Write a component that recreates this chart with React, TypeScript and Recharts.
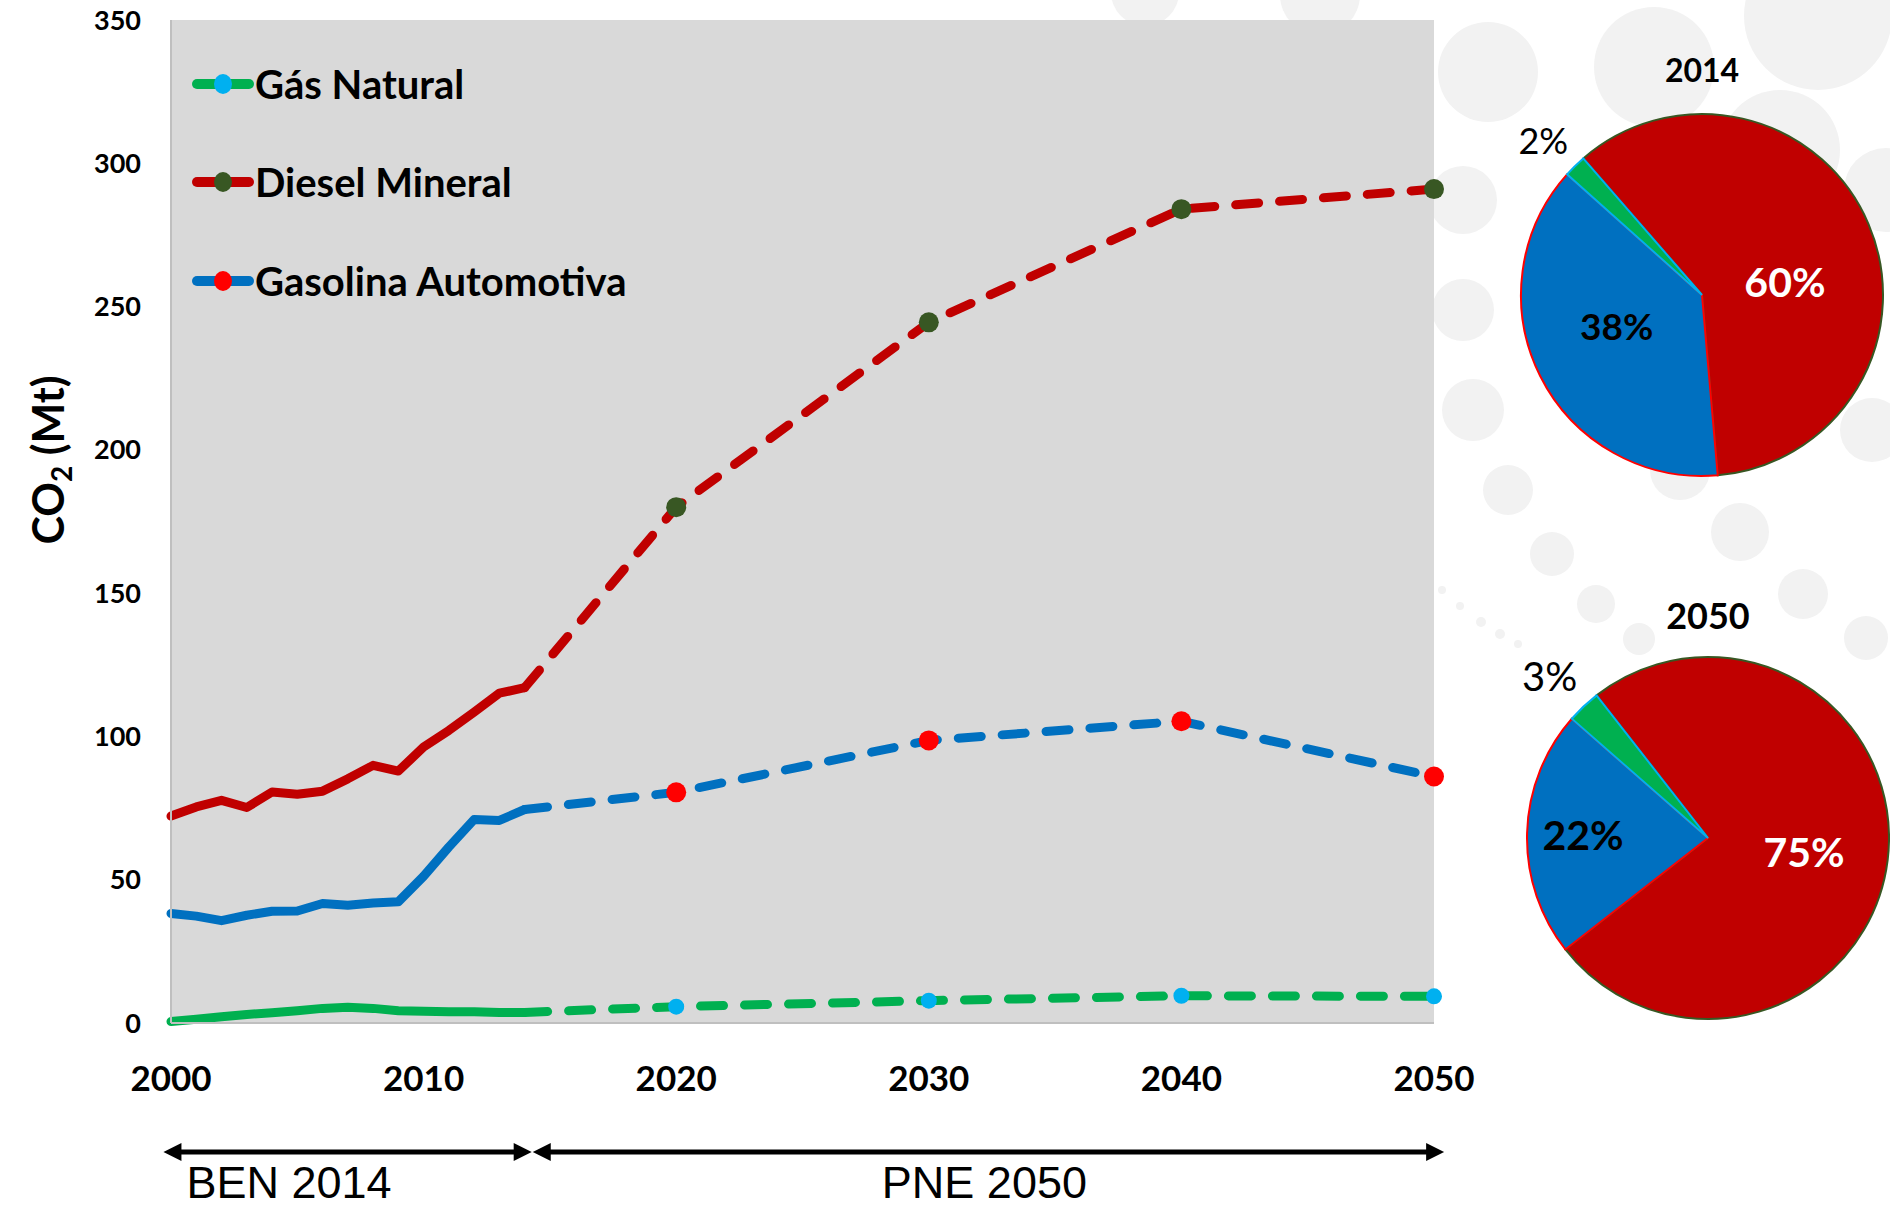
import React from 'react';
import { LineChart, Line, XAxis, YAxis, CartesianGrid, ReferenceLine, PieChart, Pie, Cell } from 'recharts';

// ---------- DATA ----------
const histYears = [2000, 2001, 2002, 2003, 2004, 2005, 2006, 2007, 2008, 2009, 2010, 2011, 2012, 2013, 2014];
const gasNaturalHist = [0.5, 1.3, 2.2, 3.0, 3.6, 4.3, 5.1, 5.5, 5.1, 4.3, 4.1, 3.9, 3.9, 3.7, 3.7];
const dieselHist = [72.2, 75.4, 77.7, 75.2, 80.6, 79.8, 80.9, 85.2, 89.9, 87.9, 96.3, 102.1, 108.5, 115.1, 117.0];
const gasolinaHist = [38.2, 37.3, 35.7, 37.6, 39.0, 39.1, 41.7, 41.1, 41.9, 42.3, 51.2, 61.4, 71.0, 70.7, 74.5];

const projYears = [2014, 2020, 2030, 2040, 2050];
const gasNaturalProj = [3.7, 5.7, 7.8, 9.5, 9.3];
const dieselProj = [117.0, 180.0, 244.5, 284.0, 291.0];
const gasolinaProj = [74.5, 80.5, 98.6, 105.3, 86.0];

const yTicks = [0, 50, 100, 150, 200, 250, 300, 350];
const xTicks = [2000, 2010, 2020, 2030, 2040, 2050];

const seriesNames = ['Gás Natural', 'Diesel Mineral', 'Gasolina Automotiva'];

const pieSliceNames = ['Diesel Mineral', 'Gasolina Automotiva', 'Gás Natural'];
const pie2014Values = [60, 38, 2];
const pie2050Values = [75, 22, 3];
const pieTitles = ['2014', '2050'];

const periodLabels = ['BEN 2014', 'PNE 2050'];
const periodSpans = [
  [1999.7, 2014.28],
  [2014.32, 2050.4],
];
const periodArrowValue = -45;

// ---------- BUILD TABLE ----------
const allYears = Array.from(new Set([...histYears, ...projYears])).sort((a, b) => a - b);
const rows = allYears.map((year) => {
  const hi = histYears.indexOf(year);
  const pi = projYears.indexOf(year);
  return {
    year,
    gasH: hi >= 0 ? gasNaturalHist[hi] : null,
    dieselH: hi >= 0 ? dieselHist[hi] : null,
    gasolinaH: hi >= 0 ? gasolinaHist[hi] : null,
    gasP: pi >= 0 ? gasNaturalProj[pi] : null,
    dieselP: pi >= 0 ? dieselProj[pi] : null,
    gasolinaP: pi >= 0 ? gasolinaProj[pi] : null,
  };
});

const pieData = (vals: number[]) => pieSliceNames.map((name, i) => ({ name, value: vals[i] }));

// ---------- STYLE ----------
const FONT = 'Lato, "Open Sans", "DejaVu Sans", sans-serif';
const C = {
  green: '#00b050',
  cyan: '#00b0f0',
  red: '#c00000',
  olive: '#385723',
  blue: '#0070c0',
  brightRed: '#ff0000',
  plot: '#d9d9d9',
  axis: '#bfbfbf',
};
const lineColors = [C.green, C.red, C.blue];
const markerColors = [C.cyan, C.olive, C.brightRed];
const sliceFill = [C.red, C.blue, C.green];
const sliceStroke = [C.olive, C.brightRed, C.cyan];

const decorBubbles = [
  [1488, 72, 50], [1654, 67, 60], [1818, 16, 74], [1780, 150, 60], [1463, 200, 34],
  [1886, 190, 42], [1463, 310, 31], [1473, 410, 31], [1508, 490, 25], [1740, 532, 29],
  [1552, 554, 22], [1803, 594, 25], [1596, 604, 19], [1639, 639, 16], [1866, 638, 22],
  [1872, 430, 32], [1680, 470, 30], [1145, -8, 34], [1320, -5, 40],
  [1442, 590, 4], [1460, 606, 4], [1481, 622, 5], [1500, 634, 5], [1518, 644, 4],
];

// per pie: [radiusFactor, angleOffset, fill, fontSize, fontWeight] by slice index
const pieLabelCfg: Record<string, Array<[number, number, string, number, number]>> = {
  '2014': [
    [0.464, -14, '#ffffff', 41, 700],
    [0.5, -7, '#000000', 37, 700],
    [1.227, 1, '#000000', 36, 400],
  ],
  '2050': [
    [0.536, -1, '#ffffff', 41, 700],
    [0.69, 0, '#000000', 41, 700],
    [1.25, 1, '#000000', 40, 400],
  ],
};

const RAD = Math.PI / 180;
const makePieLabel = (key: string) => (props: any) => {
  const { cx, cy, midAngle, outerRadius, index, value } = props;
  const [rf, off, fill, fs, fw] = pieLabelCfg[key][index];
  const a = (midAngle + off) * RAD;
  const r = outerRadius * rf;
  const x = cx + r * Math.cos(a);
  const y = cy - r * Math.sin(a);
  return (
    <text key={`pl-${key}-${index}`} x={x} y={y} fill={fill} fontSize={fs} fontWeight={fw}
      fontFamily={FONT} textAnchor="middle" dominantBaseline="central">
      {`${value}%`}
    </text>
  );
};

const makeDot = (fill: string, r: number) => (props: any) => {
  const { cx, cy, payload, index } = props;
  if (cx == null || cy == null || !payload || payload.year < 2020) return <g key={`dot-${index}`} />;
  return <circle key={`dot-${index}`} cx={cx} cy={cy} r={r} fill={fill} stroke="none" />;
};

const makeArrow = (label: string, mode: 'start' | 'middle') => (props: any) => {
  const { x1, y1, x2, y2 } = props;
  const L = 18;
  const h = 9;
  const tx = mode === 'start' ? x1 + 23 : (x1 + x2) / 2 - 4;
  return (
    <g>
      <line x1={x1 + 6} y1={y1} x2={x2 - 6} y2={y2} stroke="#000" strokeWidth={5} />
      <polygon points={`${x1},${y1} ${x1 + L},${y1 - h} ${x1 + L},${y1 + h}`} fill="#000" />
      <polygon points={`${x2},${y2} ${x2 - L},${y2 - h} ${x2 - L},${y2 + h}`} fill="#000" />
      <text x={tx} y={y1 + 46} textAnchor={mode} fontSize={45} fontFamily='"Liberation Sans", Arial, sans-serif' fill="#000">
        {label}
      </text>
    </g>
  );
};

const LW = 9;
const dash = '23 21';

export default function App() {
  const legendY = [84, 182, 281];
  return (
    <div style={{ position: 'absolute', left: 0, top: 0, width: 1890, height: 1212, background: '#fff', overflow: 'hidden' }}>
      <svg width={1890} height={1212} style={{ position: 'absolute', left: 0, top: 0 }}>
        {decorBubbles.map(([x, y, r], i) => (
          <circle key={i} cx={x} cy={y} r={r} fill="#f2f2f2" />
        ))}
      </svg>

      <div style={{ position: 'absolute', left: 0, top: 0 }}>
        <LineChart width={1510} height={1212} data={rows} margin={{ top: 20, right: 76, bottom: 129, left: 0 }}>
          <CartesianGrid horizontal={false} vertical={false} fill={C.plot} fillOpacity={1} />
          <XAxis
            dataKey="year"
            type="number"
            domain={[2000, 2050]}
            ticks={xTicks}
            height={60}
            tickSize={0}
            tickMargin={43}
            axisLine={{ stroke: C.axis, strokeWidth: 2 }}
            tickLine={false}
            tick={{ fill: '#000', fontSize: 35, fontWeight: 700, fontFamily: FONT }}
            interval={0}
          />
          <YAxis
            type="number"
            domain={[0, 350]}
            ticks={yTicks}
            width={171}
            tickSize={0}
            tickMargin={30}
            axisLine={{ stroke: C.axis, strokeWidth: 2 }}
            tickLine={false}
            tick={{ fill: '#000', fontSize: 27, fontWeight: 700, fontFamily: FONT }}
            interval={0}
          />
          <Line dataKey="gasH" type="linear" stroke={C.green} strokeWidth={LW} dot={false} activeDot={false}
            isAnimationActive={false} strokeLinecap="round" strokeLinejoin="round" name={seriesNames[0]} />
          <Line dataKey="dieselH" type="linear" stroke={C.red} strokeWidth={LW} dot={false} activeDot={false}
            isAnimationActive={false} strokeLinecap="round" strokeLinejoin="round" name={seriesNames[1]} />
          <Line dataKey="gasolinaH" type="linear" stroke={C.blue} strokeWidth={LW} dot={false} activeDot={false}
            isAnimationActive={false} strokeLinecap="round" strokeLinejoin="round" name={seriesNames[2]} />
          <Line dataKey="gasP" type="linear" stroke={C.green} strokeWidth={LW} strokeDasharray={dash}
            strokeLinecap="round" dot={makeDot(C.cyan, 8)} activeDot={false} isAnimationActive={false} name={`${seriesNames[0]} proj`} />
          <Line dataKey="dieselP" type="linear" stroke={C.red} strokeWidth={LW} strokeDasharray={dash}
            strokeLinecap="round" dot={makeDot(C.olive, 10)} activeDot={false} isAnimationActive={false} name={`${seriesNames[1]} proj`} />
          <Line dataKey="gasolinaP" type="linear" stroke={C.blue} strokeWidth={LW} strokeDasharray={dash}
            strokeLinecap="round" dot={makeDot(C.brightRed, 10)} activeDot={false} isAnimationActive={false} name={`${seriesNames[2]} proj`} />
          <ReferenceLine
            segment={[{ x: periodSpans[0][0], y: periodArrowValue }, { x: periodSpans[0][1], y: periodArrowValue }]}
            ifOverflow="visible"
            shape={makeArrow(periodLabels[0], 'start')}
          />
          <ReferenceLine
            segment={[{ x: periodSpans[1][0], y: periodArrowValue }, { x: periodSpans[1][1], y: periodArrowValue }]}
            ifOverflow="visible"
            shape={makeArrow(periodLabels[1], 'middle')}
          />
        </LineChart>
      </div>

      {/* legend + y-axis title + pie titles */}
      <svg width={1890} height={1212} style={{ position: 'absolute', left: 0, top: 0, pointerEvents: 'none' }}>
        {seriesNames.map((name, i) => (
          <g key={name}>
            <line x1={197} y1={legendY[i]} x2={249} y2={legendY[i]} stroke={lineColors[i]} strokeWidth={10} strokeLinecap="round" />
            <ellipse cx={223} cy={legendY[i]} rx={9} ry={10} fill={markerColors[i]} />
            <text x={255} y={legendY[i]} dominantBaseline="central" fontSize={40} fontWeight={700} fontFamily={FONT} fill="#000">
              {name}
            </text>
          </g>
        ))}
        <text transform="translate(64,460) rotate(-90)" textAnchor="middle" fontSize={43} fontWeight={700} fontFamily={FONT} fill="#000">
          CO<tspan fontSize={28} dy={8}>2</tspan><tspan dy={-8}> (Mt)</tspan>
        </text>
        <text x={1702} y={69} textAnchor="middle" dominantBaseline="central" fontSize={32} fontWeight={700} fontFamily={FONT} fill="#000">
          {pieTitles[0]}
        </text>
        <text x={1708} y={615} textAnchor="middle" dominantBaseline="central" fontSize={36} fontWeight={700} fontFamily={FONT} fill="#000">
          {pieTitles[1]}
        </text>
      </svg>

      <div style={{ position: 'absolute', left: 1400, top: 0 }}>
        <PieChart width={490} height={1100} margin={{ top: 0, right: 0, bottom: 0, left: 0 }}>
          <Pie data={pieData(pie2014Values)} dataKey="value" nameKey="name" cx={302} cy={295} outerRadius={181}
            startAngle={131} endAngle={-229} isAnimationActive={false} labelLine={false} label={makePieLabel('2014')}>
            {pieSliceNames.map((n, i) => (
              <Cell key={n} fill={sliceFill[i]} stroke={sliceStroke[i]} strokeWidth={2} />
            ))}
          </Pie>
          <Pie data={pieData(pie2050Values)} dataKey="value" nameKey="name" cx={308} cy={838} outerRadius={181}
            startAngle={128} endAngle={-232} isAnimationActive={false} labelLine={false} label={makePieLabel('2050')}>
            {pieSliceNames.map((n, i) => (
              <Cell key={n} fill={sliceFill[i]} stroke={sliceStroke[i]} strokeWidth={2} />
            ))}
          </Pie>
        </PieChart>
      </div>
    </div>
  );
}
